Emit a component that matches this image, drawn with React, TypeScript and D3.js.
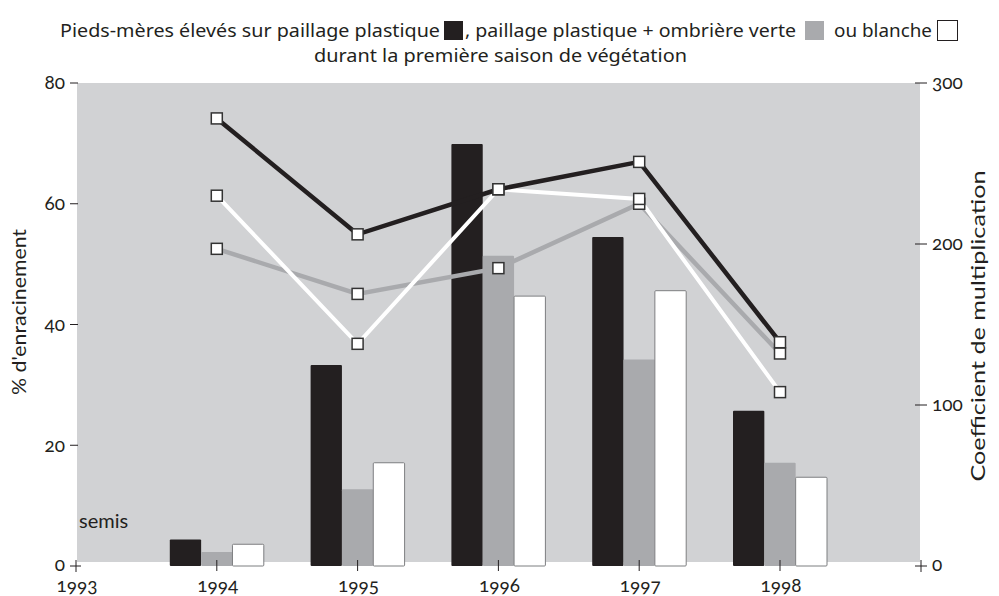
import { useRef, useEffect } from 'react';
import * as d3 from 'd3';

// années (axe x)
const years = [1994, 1995, 1996, 1997, 1998];
const xTickYears = [1993, 1994, 1995, 1996, 1997, 1998];
const seriesKeys = ['plastique', 'verte', 'blanche'];

// % d'enracinement (barres, axe gauche)
const barPlastique = [4.4, 33.3, 69.9, 54.5, 25.7];
const barVerte = [2.3, 12.7, 51.4, 34.2, 17.1];
const barBlanche = [3.6, 17.1, 44.7, 45.6, 14.7];

// coefficient de multiplication (lignes, axe droit)
const coefPlastique = [278, 206, 234, 251, 139];
const coefVerte = [197, 169, 185, 225, 132];
const coefBlanche = [230, 138, 234, 228, 108];

const leftTicks = [0, 20, 40, 60, 80];
const rightTicks = [0, 100, 200, 300];

const INK = '#231f20';
const BG = '#d1d2d4';
const MID = '#a9aaad';
const FONT = 'Lato, "Open Sans", sans-serif';

const App = () => {
    const ref = useRef<SVGSVGElement>(null);

    useEffect(() => {
        const svg = d3.select(ref.current);
        svg.selectAll('*').remove();

        const plotLeft = 77, plotRight = 920, plotTop = 83, plotBottom = 566;

        const x = d3.scaleLinear().domain([1993, 1998]).range([76, 780]);
        const yL = d3.scaleLinear().domain([0, 80]).range([plotBottom, plotTop]);
        const yR = d3.scaleLinear().domain([0, 300]).range([plotBottom, plotTop]);
        const inner = d3.scaleBand().domain(seriesKeys).range([-47, 47]);

        const fills = { plastique: INK, verte: MID, blanche: '#fff' };
        const barData = { plastique: barPlastique, verte: barVerte, blanche: barBlanche };

        // fond gris
        svg.append('rect')
            .attr('x', plotLeft)
            .attr('y', plotTop)
            .attr('width', plotRight - plotLeft)
            .attr('height', plotBottom - plotTop - 4)
            .attr('fill', BG);

        // barres
        seriesKeys.forEach(k => {
            svg.append('g').selectAll('rect')
                .data(years)
                .enter().append('rect')
                .attr('x', d => x(d) + inner(k))
                .attr('y', (_, i) => yL(barData[k][i]))
                .attr('width', inner.bandwidth())
                .attr('height', (_, i) => plotBottom - yL(barData[k][i]))
                .attr('rx', 1)
                .attr('fill', fills[k])
                .attr('stroke', k === 'blanche' ? '#7d7e80' : 'none')
                .attr('stroke-width', 1);
        });

        // graduations axe x
        svg.append('g').selectAll('line')
            .data(years)
            .enter().append('line')
            .attr('x1', d => x(d)).attr('x2', d => x(d))
            .attr('y1', plotBottom - 6).attr('y2', plotBottom + 5)
            .attr('stroke', INK).attr('stroke-width', 1);

        // lignes (coefficient)
        const line = d3.line<number>()
            .x((_, i) => x(years[i]))
            .y(d => yR(d));

        const lines = [
            { key: 'verte', values: coefVerte, color: MID, width: 4.5 },
            { key: 'blanche', values: coefBlanche, color: '#fff', width: 4 },
            { key: 'plastique', values: coefPlastique, color: INK, width: 4.5 },
        ];

        lines.forEach(s => {
            svg.append('path')
                .attr('d', line(s.values))
                .attr('fill', 'none')
                .attr('stroke', s.color)
                .attr('stroke-width', s.width)
                .attr('stroke-linejoin', 'miter');
        });

        lines.forEach(s => {
            svg.append('g').selectAll('rect')
                .data(s.values)
                .enter().append('rect')
                .attr('x', (_, i) => x(years[i]) - 5.5)
                .attr('y', d => yR(d) - 5.5)
                .attr('width', 11)
                .attr('height', 11)
                .attr('fill', '#fff')
                .attr('stroke', '#333')
                .attr('stroke-width', 1.5);
        });

        const tickText = sel => sel
            .style('font-family', FONT)
            .style('font-size', '19px')
            .style('font-variant-numeric', 'oldstyle-nums')
            .attr('fill', INK);

        // axe gauche
        const left = svg.append('g');
        left.selectAll('line')
            .data(leftTicks)
            .enter().append('line')
            .attr('x1', 70).attr('x2', d => (d === 0 ? 81 : plotLeft + 1))
            .attr('y1', d => yL(d)).attr('y2', d => yL(d))
            .attr('stroke', INK);
        left.append('line')
            .attr('x1', x(1993)).attr('x2', x(1993))
            .attr('y1', plotBottom - 6).attr('y2', plotBottom + 6)
            .attr('stroke', INK);
        left.selectAll('text')
            .data(leftTicks)
            .enter().append('text')
            .attr('x', 65)
            .attr('y', d => yL(d))
            .attr('dy', d => (d === 0 ? '0.25em' : '0.34em'))
            .attr('text-anchor', 'end')
            .call(tickText)
            .text(d => d);

        // axe droit
        const right = svg.append('g');
        right.selectAll('line')
            .data(rightTicks)
            .enter().append('line')
            .attr('x1', 915).attr('x2', 927)
            .attr('y1', d => yR(d)).attr('y2', d => yR(d))
            .attr('stroke', INK);
        right.append('line')
            .attr('x1', 921).attr('x2', 921)
            .attr('y1', plotBottom - 6).attr('y2', plotBottom + 6)
            .attr('stroke', INK);
        right.selectAll('text')
            .data(rightTicks)
            .enter().append('text')
            .attr('x', 932)
            .attr('y', d => yR(d))
            .attr('dy', d => (d === 0 ? '0.25em' : '0.34em'))
            .call(tickText)
            .text(d => d);

        // étiquettes années
        svg.append('g').selectAll('text')
            .data(xTickYears)
            .enter().append('text')
            .attr('x', d => x(d) + 1)
            .attr('y', 592)
            .attr('text-anchor', 'middle')
            .call(tickText)
            .text(d => d);

        // semis
        svg.append('text')
            .attr('x', 79)
            .attr('y', 528)
            .style('font-family', FONT)
            .style('font-size', '20px')
            .attr('fill', INK)
            .text('semis');

        // titres des axes
        svg.append('text')
            .attr('transform', 'translate(26, 312) rotate(-90)')
            .attr('text-anchor', 'middle')
            .attr('textLength', 166)
            .attr('lengthAdjust', 'spacingAndGlyphs')
            .style('font-family', FONT)
            .style('font-size', '19px')
            .attr('fill', INK)
            .text("% d'enracinement");

        svg.append('text')
            .attr('transform', 'translate(985, 326) rotate(-90)')
            .attr('text-anchor', 'middle')
            .attr('textLength', 311)
            .attr('lengthAdjust', 'spacingAndGlyphs')
            .style('font-family', FONT)
            .style('font-size', '19px')
            .attr('fill', INK)
            .text('Coefficient de multiplication');

        // titre + légende
        const title = svg.append('g')
            .style('font-family', '"Noto Sans", sans-serif')
            .style('font-size', '18px')
            .attr('fill', INK);

        const seg = (txt, x0, x1, y) => title.append('text')
            .attr('x', x0).attr('y', y)
            .attr('textLength', x1 - x0)
            .attr('lengthAdjust', 'spacingAndGlyphs')
            .text(txt);

        seg('Pieds-mères élevés sur paillage plastique', 60, 440, 37);
        title.append('rect').attr('x', 444).attr('y', 21).attr('width', 19).attr('height', 19).attr('fill', INK);
        seg(', paillage plastique + ombrière verte', 465, 796, 37);
        title.append('rect').attr('x', 805).attr('y', 21).attr('width', 19).attr('height', 19).attr('fill', MID);
        seg('ou blanche', 834, 932, 37);
        title.append('rect').attr('x', 937.5).attr('y', 20.5).attr('width', 20).attr('height', 20)
            .attr('fill', '#fff').attr('stroke', INK).attr('stroke-width', 1);
        seg('durant la première saison de végétation', 314, 687, 62);

    }, []);

    return <svg ref={ref} width={999} height={596} style={{ position: 'absolute', left: 0, top: 0 }}></svg>;
};

export default App;
